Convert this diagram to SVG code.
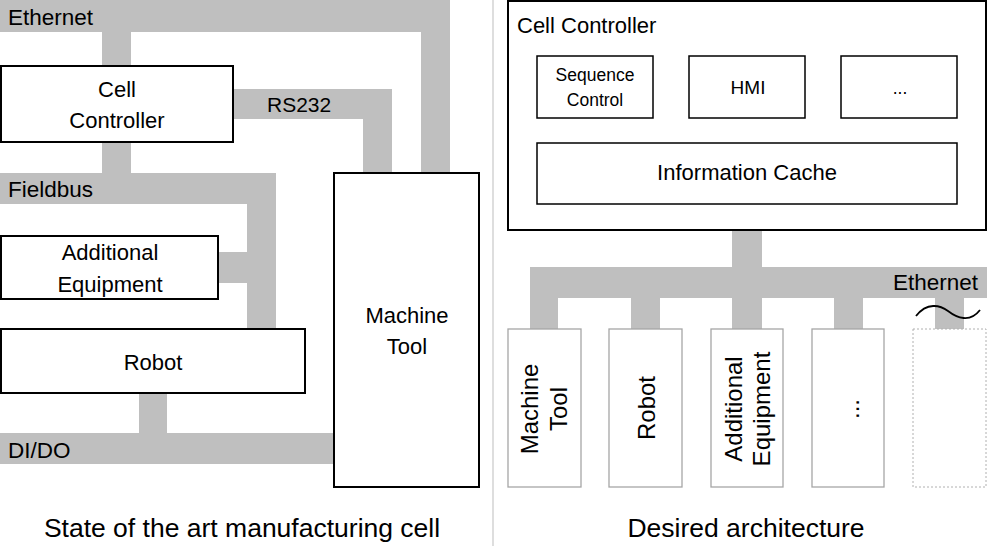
<svg xmlns="http://www.w3.org/2000/svg" width="987" height="546" viewBox="0 0 987 546">
<style>
text{font-family:"Liberation Sans",Arial,sans-serif;fill:#000}
.bus{fill:#bfbfbf}
.box{fill:#fff;stroke:#000;stroke-width:2}
.ibox{fill:#fff;stroke:#000;stroke-width:1.5}
.dev{fill:#fff;stroke:#a6a6a6;stroke-width:1.3}
.ghost{fill:#fff;stroke:#b0b0b0;stroke-width:1;stroke-dasharray:2 2}
.l{font-size:22.5px}
.m{font-size:22px;text-anchor:middle}
.s{font-size:17.5px;text-anchor:middle}
.v{font-size:24px;text-anchor:middle}
.cap{font-size:26.5px;text-anchor:middle}
</style>
<rect width="987" height="546" fill="#fff"/>
<line x1="493" y1="0" x2="493" y2="546" stroke="#bdbdbd" stroke-width="1"/>
<g id="connectors">
  <rect class="bus" x="0" y="0" width="450" height="32"/>
  <rect class="bus" x="421" y="0" width="29" height="174"/>
  <rect class="bus" x="102" y="30" width="29" height="37"/>
  <rect class="bus" x="233" y="89" width="159" height="30"/>
  <rect class="bus" x="363" y="89" width="29" height="85"/>
  <rect class="bus" x="102" y="141" width="29" height="34"/>
  <rect class="bus" x="0" y="173" width="276" height="31"/>
  <rect class="bus" x="247" y="173" width="29" height="157"/>
  <rect class="bus" x="217" y="252" width="32" height="31"/>
  <rect class="bus" x="139" y="392" width="28" height="43"/>
  <rect class="bus" x="0" y="433" width="335" height="31"/>
  <rect class="bus" x="732" y="229" width="30" height="40"/>
  <rect class="bus" x="530" y="267" width="457" height="31"/>
  <rect class="bus" x="530" y="296" width="28" height="34"/>
  <rect class="bus" x="631" y="296" width="29" height="34"/>
  <rect class="bus" x="732" y="296" width="30" height="34"/>
  <rect class="bus" x="834" y="296" width="29" height="34"/>
  <rect class="bus" x="935" y="296" width="29" height="34"/>
</g>
<g id="bus-labels">
  <text class="l" x="8" y="25">Ethernet</text>
  <text x="267" y="112" style="font-size:21px">RS232</text>
  <text class="l" x="8" y="197">Fieldbus</text>
  <text class="l" x="8" y="458">DI/DO</text>
  <text class="l" x="893" y="290">Ethernet</text>
  <path d="M916,316 C927,302 940,305 948,311 C957,318 970,323 980,310" fill="none" stroke="#000" stroke-width="1.8"/>
</g>
<g id="cell-controller-left">
  <rect class="box" x="1" y="66" width="232" height="76"/>
  <text class="m" x="117" y="97">Cell</text>
  <text class="m" x="117" y="128">Controller</text>
</g>
<g id="machine-tool-left">
  <rect class="box" x="334" y="173" width="145" height="314"/>
  <text class="m" x="407" y="323">Machine</text>
  <text class="m" x="407" y="354">Tool</text>
</g>
<g id="additional-equipment-left">
  <rect class="box" x="1" y="236" width="217" height="63"/>
  <text class="m" x="110" y="260">Additional</text>
  <text class="m" x="110" y="292">Equipment</text>
</g>
<g id="robot-left">
  <rect class="box" x="1" y="329" width="304" height="64"/>
  <text class="m" x="153" y="370">Robot</text>
</g>
<g id="cell-controller-right">
  <rect class="box" x="508" y="1" width="478" height="229"/>
  <text class="l" x="517" y="33" style="font-size:22px">Cell Controller</text>
</g>
<g id="sequence-control">
  <rect class="ibox" x="537" y="56" width="116" height="62"/>
  <text class="s" x="595" y="81">Sequence</text>
  <text class="s" x="595" y="106">Control</text>
</g>
<g id="hmi">
  <rect class="ibox" x="689" y="56" width="116" height="62"/>
  <text class="s" x="748" y="94" style="font-size:19px">HMI</text>
</g>
<g id="more-modules">
  <rect class="ibox" x="841" y="56" width="116" height="62"/>
  <text class="s" x="900" y="94">...</text>
</g>
<g id="information-cache">
  <rect class="ibox" x="537" y="143" width="420" height="61"/>
  <text class="m" x="747" y="180">Information Cache</text>
</g>
<g id="machine-tool-right">
  <rect class="dev" x="508" y="329" width="73" height="158"/>
  <text class="v" transform="translate(538,409) rotate(-90)">Machine</text>
  <text class="v" transform="translate(567,409) rotate(-90)">Tool</text>
</g>
<g id="robot-right">
  <rect class="dev" x="609" y="329" width="73" height="158"/>
  <text class="v" transform="translate(655,408) rotate(-90)">Robot</text>
</g>
<g id="additional-equipment-right">
  <rect class="dev" x="711" y="329" width="72" height="158"/>
  <text class="v" transform="translate(742,409) rotate(-90)">Additional</text>
  <text class="v" transform="translate(770,409) rotate(-90)">Equipment</text>
</g>
<g id="more-devices">
  <rect class="dev" x="812" y="329" width="72" height="158"/>
  <text class="v" transform="translate(859,409) rotate(-90)">...</text>
</g>
<g id="future-device">
  <rect class="ghost" x="913" y="329" width="73" height="158"/>
</g>
<g id="captions">
  <text class="cap" x="242" y="537">State of the art manufacturing cell</text>
  <text class="cap" x="746" y="537">Desired architecture</text>
</g>
</svg>
